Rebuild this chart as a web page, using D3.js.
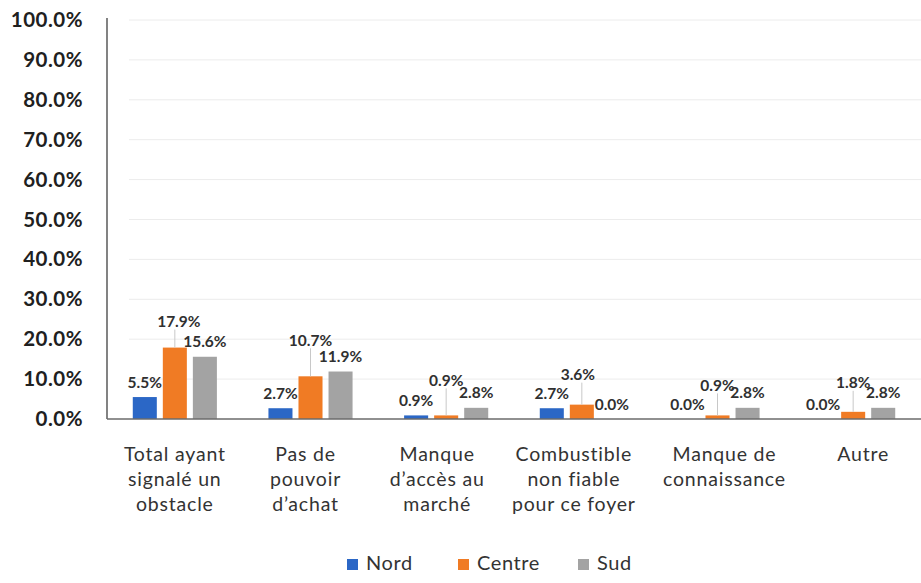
<!DOCTYPE html>
<html><head><meta charset="utf-8">
<script src="https://cdn.jsdelivr.net/npm/d3@7"></script>
<style>
body{margin:0;background:#fff;}
svg{display:block;}
</style></head>
<body>
<svg id="chart" width="921" height="583"></svg>
<script>
const categories = [
  ["Total ayant","signalé un","obstacle"],
  ["Pas de","pouvoir","d’achat"],
  ["Manque","d’accès au","marché"],
  ["Combustible","non fiable","pour ce foyer"],
  ["Manque de","connaissance"],
  ["Autre"]
];
const seriesNames = ["Nord","Centre","Sud"];
const nordValues   = [5.5, 2.7, 0.9, 2.7, 0.0, 0.0];
const centreValues = [17.9, 10.7, 0.9, 3.6, 0.9, 1.8];
const sudValues    = [15.6, 11.9, 2.8, 0.0, 2.8, 2.8];
const yTicks = [0,10,20,30,40,50,60,70,80,90,100];
// manual label lift (px) for the Centre series labels (with leader lines)
const centreLabelLift = [11, 21, 20, 15, 15, 14];
const centreLabelShift = [4, 0, 0, -4, 0, 0];
// horizontal nudge of category labels, as in the original
const categoryLabelShift = [0, -5, -9, -8, 7, 10];

const colors = {Nord:"#2b67c6", Centre:"#f07b24", Sud:"#a3a3a3"};
const values = {Nord:nordValues, Centre:centreValues, Sud:sudValues};
const catKeys = categories.map((c,i)=>"c"+i);

const svg = d3.select("#chart");
const plotLeft = 107, plotRight = 921, plotTop = 20, plotBottom = 419;

const y = d3.scaleLinear().domain([0,100]).range([plotBottom, plotTop]);
const x0 = d3.scaleBand().domain(catKeys).range([plotLeft, plotRight]).paddingInner(0.38).paddingOuter(0.19);
const x1 = d3.scaleBand().domain(seriesNames).range([0, x0.bandwidth()]).paddingInner(0.2);

// gridlines
svg.append("g").selectAll("line").data(yTicks.filter(t=>t>0)).join("line")
  .attr("x1", plotLeft+22).attr("x2", plotRight)
  .attr("y1", d=>y(d)).attr("y2", d=>y(d))
  .attr("stroke", "#ececec").attr("stroke-width", 1);

// y axis
const yAxis = d3.axisLeft(y).tickValues(yTicks).tickSize(0).tickPadding(24)
  .tickFormat(d=>d.toFixed(1)+"%");
const ya = svg.append("g").attr("transform",`translate(${plotLeft},0)`).call(yAxis);
ya.select(".domain").attr("stroke","#303030").attr("stroke-width",1.2).attr("d",`M0,${plotTop-2}V${plotBottom}`);
ya.selectAll("text").attr("font-family","Lato, sans-serif").attr("font-weight","700")
  .attr("font-size","20.5px").attr("letter-spacing","0.5px").attr("fill","#202020");

// bars
const groups = svg.append("g").selectAll("g").data(catKeys).join("g")
  .attr("transform", d=>`translate(${x0(d)},0)`);
groups.selectAll("rect").data((d,i)=>seriesNames.map(s=>({s, v:values[s][i], i}))).join("rect")
  .attr("x", d=>x1(d.s)).attr("width", x1.bandwidth())
  .attr("y", d=>y(d.v)).attr("height", d=>y(0)-y(d.v))
  .attr("fill", d=>colors[d.s]);

// baseline
svg.append("line").attr("x1",plotLeft).attr("x2",plotRight).attr("y1",plotBottom).attr("y2",plotBottom)
  .attr("stroke","#6b6b6b").attr("stroke-width",1.5);

// data labels
const lab = svg.append("g");
seriesNames.forEach(s=>{
  values[s].forEach((v,i)=>{
    const cx = x0(catKeys[i]) + x1(s) + x1.bandwidth()/2;
    const topY = y(v);
    let lift = 0, shift = 0;
    if (s==="Centre") { lift = centreLabelLift[i]; shift = centreLabelShift[i]; }
    const cy = topY - 15 - lift;
    if (lift > 0) {
      lab.append("line").attr("x1", cx).attr("x2", cx)
        .attr("y1", cy+8).attr("y2", topY)
        .attr("stroke","#c8c8c8").attr("stroke-width",1);
    }
    lab.append("text").attr("x", cx+shift).attr("y", cy+5.5)
      .attr("text-anchor","middle")
      .attr("font-family","Lato, sans-serif").attr("font-weight","700")
      .attr("font-size","15.5px").attr("fill","#303030")
      .text(v.toFixed(1)+"%");
  });
});

// category labels
const cl = svg.append("g");
categories.forEach((lines,i)=>{
  const cx = x0(catKeys[i]) + x0.bandwidth()/2 + categoryLabelShift[i];
  const t = cl.append("text").attr("text-anchor","middle")
    .attr("font-family","Lato, sans-serif").attr("font-size","19.5px").attr("fill","#333")
    .attr("letter-spacing","0.8px");
  lines.forEach((ln,j)=>{
    t.append("tspan").attr("x",cx).attr("y",461+j*25).text(ln);
  });
});

// legend
const legendX = [347, 458, 578];
const lg = svg.append("g");
seriesNames.forEach((s,i)=>{
  lg.append("rect").attr("x",legendX[i]).attr("y",559).attr("width",11).attr("height",11).attr("fill",colors[s]);
  lg.append("text").attr("x",legendX[i]+19).attr("y",570)
    .attr("font-family","Lato, sans-serif").attr("font-size","20px").attr("fill","#333")
    .attr("letter-spacing","0.6px").text(s);
});
</script>
</body></html>
